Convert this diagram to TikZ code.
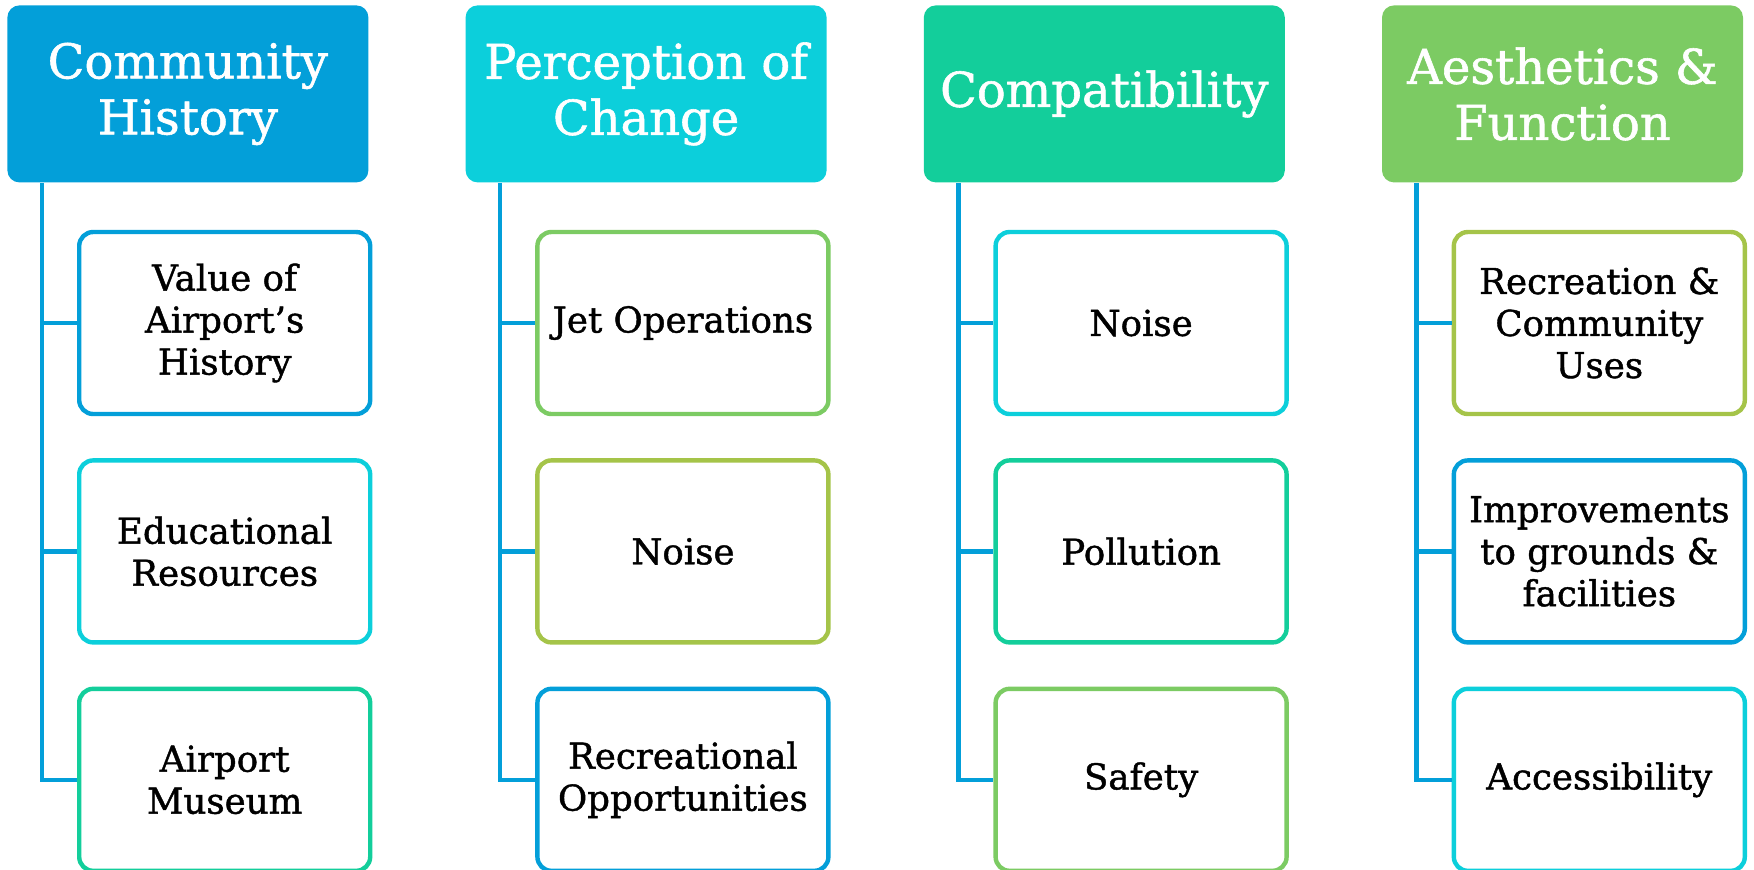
\documentclass[tikz,border=0pt]{standalone}
\usepackage{fontspec}
\setmainfont{DejaVu Serif}[BoldFont={DejaVu Serif}, BoldFeatures={FakeBold=1.2}]
\usepackage{tikz}
\usetikzlibrary{positioning,calc}
\usepackage{xcolor}
\definecolor{hdrblue}{HTML}{039FD9}
\definecolor{hdrcyan}{HTML}{0CCFDB}
\definecolor{hdrteal}{HTML}{13CE9B}
\definecolor{hdrgreen}{HTML}{7CCB63}
\definecolor{limegreen}{HTML}{A5C449}

\begin{document}
\begin{tikzpicture}[
  headbox/.style={
    fill=#1,
    rounded corners=6pt,
    minimum width=180.5pt,
    minimum height=88.5pt,
    inner sep=2pt,
    align=center,
    text=white,
    font=\fontsize{24}{28}\selectfont\bfseries
  },
  itembox/.style={
    draw=#1,
    fill=white,
    line width=2.2pt,
    rounded corners=7pt,
    minimum width=145.5pt,
    minimum height=91pt,
    inner sep=2pt,
    align=center,
    text=black,
    font=\fontsize{17.8}{21}\selectfont\bfseries
  },
  spine/.style={
    line width=2.2pt,
    draw=hdrblue
  }
]

  \useasboundingbox (0,0) rectangle (877pt,-434.5pt);

  % --- HEADER ROW ---
  \node[headbox=hdrblue, anchor=north west] (h1) at (3.5pt,-2.5pt) {Community\\History};
  \node[headbox=hdrcyan, right=48.2pt of h1] (h2) {Perception of\\Change};
  \node[headbox=hdrteal, right=48.2pt of h2] (h3) {Compatibility};
  \node[headbox=hdrgreen, right=48.2pt of h3] (h4) {Aesthetics \&\\Function};

  % --- Column 1 ---
  \node[itembox=hdrblue, below=23.5pt of h1.south west, anchor=north west, xshift=35pt] (c11) {Value of\\Airport’s\\History};
  \node[itembox=hdrcyan, below=21pt of c11] (c12) {Educational\\Resources};
  \node[itembox=hdrteal, below=21pt of c12] (c13) {Airport\\Museum};

  % --- Column 2 ---
  \node[itembox=hdrgreen, below=23.5pt of h2.south west, anchor=north west, xshift=35pt] (c21) {Jet Operations};
  \node[itembox=limegreen, below=21pt of c21] (c22) {Noise};
  \node[itembox=hdrblue, below=21pt of c22] (c23) {Recreational\\Opportunities};

  % --- Column 3 ---
  \node[itembox=hdrcyan, below=23.5pt of h3.south west, anchor=north west, xshift=35pt] (c31) {Noise};
  \node[itembox=hdrteal, below=21pt of c31] (c32) {Pollution};
  \node[itembox=hdrgreen, below=21pt of c32] (c33) {Safety};

  % --- Column 4 ---
  \node[itembox=limegreen, below=23.5pt of h4.south west, anchor=north west, xshift=35pt] (c41) {Recreation \&\\Community\\Uses};
  \node[itembox=hdrblue, below=21pt of c41] (c42) {Improvements\\to grounds \&\\facilities};
  \node[itembox=hdrcyan, below=21pt of c42] (c43) {Accessibility};

  % Spines from headers down to their items
  \coordinate (s1) at ($(h1.south west)+(17.5pt,0)$);
  \coordinate (s2) at ($(h2.south west)+(17.5pt,0)$);
  \coordinate (s3) at ($(h3.south west)+(17.5pt,0)$);
  \coordinate (s4) at ($(h4.south west)+(17.5pt,0)$);

  \draw[spine] (s1) |- (c13.west);
  \draw[spine] (s1 |- c11.west) -- (c11.west);
  \draw[spine] (s1 |- c12.west) -- (c12.west);

  \draw[spine] (s2) |- (c23.west);
  \draw[spine] (s2 |- c21.west) -- (c21.west);
  \draw[spine] (s2 |- c22.west) -- (c22.west);

  \draw[spine] (s3) |- (c33.west);
  \draw[spine] (s3 |- c31.west) -- (c31.west);
  \draw[spine] (s3 |- c32.west) -- (c32.west);

  \draw[spine] (s4) |- (c43.west);
  \draw[spine] (s4 |- c41.west) -- (c41.west);
  \draw[spine] (s4 |- c42.west) -- (c42.west);

\end{tikzpicture}
\end{document}
